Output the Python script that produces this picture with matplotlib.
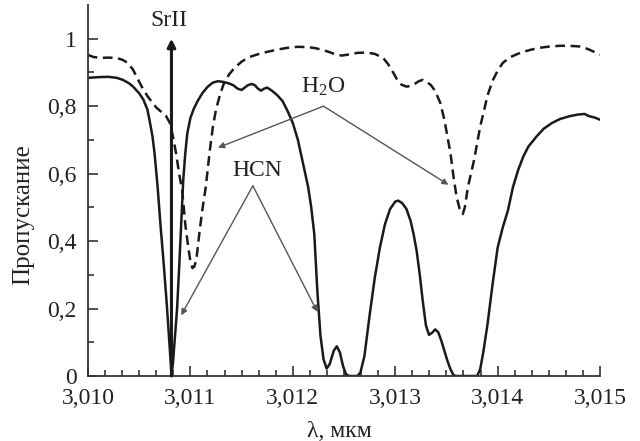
import matplotlib
matplotlib.use("Agg")
import matplotlib.pyplot as plt

plt.rcParams['font.family'] = ['Liberation Serif', 'DejaVu Serif']
plt.rcParams['mathtext.fontset'] = 'custom'
plt.rcParams['mathtext.rm'] = 'Liberation Serif'
plt.rcParams['mathtext.it'] = 'Liberation Serif:italic'
plt.rcParams['lines.scale_dashes'] = False

# HCN transmission (solid)
hcn_x = [3.01000, 3.01010, 3.01020, 3.01028, 3.01034, 3.01040, 3.01044, 3.01050, 3.01054, 3.01058,
         3.01060, 3.01063, 3.01065, 3.01068, 3.01071, 3.01074, 3.01077, 3.01079, 3.01081, 3.010815,
         3.01083, 3.01085, 3.01087, 3.01089, 3.01091, 3.01093, 3.01095, 3.01097, 3.01100, 3.01103,
         3.01107, 3.01112, 3.01117, 3.01122, 3.01127, 3.01132, 3.01137, 3.01142, 3.01146, 3.01150,
         3.01153, 3.01156, 3.01160, 3.01163, 3.01166, 3.01169, 3.01172, 3.01175, 3.01180, 3.01185,
         3.01190, 3.01195, 3.01200, 3.01205, 3.01210, 3.01215, 3.01218, 3.01221, 3.01224, 3.01227,
         3.01230, 3.01233, 3.01236, 3.01240, 3.01243, 3.01246, 3.01249, 3.01252, 3.01255, 3.01263,
         3.01266, 3.01270, 3.01275, 3.01280, 3.01285, 3.01290, 3.01295, 3.01300, 3.01303, 3.01307,
         3.01311, 3.01315, 3.01318, 3.01321, 3.01324, 3.01327, 3.01330, 3.01333, 3.01336, 3.01339,
         3.01342, 3.01345, 3.01348, 3.01351, 3.01354, 3.01357, 3.01360, 3.01380, 3.01383, 3.01386,
         3.01390, 3.01395, 3.01400, 3.01405, 3.01410, 3.01415, 3.01420, 3.01425, 3.01430, 3.01438,
         3.01445, 3.01453, 3.01461, 3.01470, 3.01478, 3.01485, 3.01488, 3.01490, 3.01495, 3.01500]
hcn_y = [0.884, 0.886, 0.887, 0.884, 0.878, 0.868, 0.858, 0.838, 0.820, 0.790,
         0.760, 0.710, 0.660, 0.560, 0.440, 0.330, 0.210, 0.120, 0.030, 0.000,
         0.040, 0.120, 0.200, 0.320, 0.450, 0.580, 0.660, 0.720, 0.765, 0.790,
         0.815, 0.840, 0.858, 0.870, 0.874, 0.872, 0.868, 0.862, 0.852, 0.848,
         0.855, 0.862, 0.866, 0.862, 0.852, 0.846, 0.852, 0.855, 0.845, 0.832,
         0.815, 0.785, 0.750, 0.700, 0.630, 0.560, 0.500, 0.420, 0.250, 0.120,
         0.050, 0.022, 0.035, 0.075, 0.088, 0.070, 0.030, 0.005, 0.000, 0.000,
         0.010, 0.060, 0.180, 0.290, 0.380, 0.450, 0.495, 0.517, 0.520, 0.512,
         0.495, 0.460, 0.420, 0.370, 0.300, 0.220, 0.150, 0.122, 0.128, 0.138,
         0.130, 0.105, 0.075, 0.045, 0.020, 0.002, 0.000, 0.000, 0.020, 0.070,
         0.150, 0.270, 0.380, 0.440, 0.490, 0.560, 0.610, 0.650, 0.680, 0.710,
         0.733, 0.750, 0.762, 0.770, 0.775, 0.777, 0.772, 0.770, 0.766, 0.760]

# H2O transmission (dashed)
h2o_x = [3.01000, 3.01005, 3.01012, 3.01020, 3.01028, 3.01034, 3.01039, 3.01044, 3.01048, 3.01053,
         3.01058, 3.01063, 3.01067, 3.01072, 3.01076, 3.01080, 3.01083, 3.01086, 3.01089, 3.01092,
         3.01095, 3.01098, 3.01100, 3.01102, 3.01104, 3.01106, 3.01109, 3.01112, 3.01115, 3.01119,
         3.01122, 3.01125, 3.01129, 3.01133, 3.01138, 3.01143, 3.01150, 3.01157, 3.01165, 3.01175,
         3.01185, 3.01195, 3.01205, 3.01215, 3.01222, 3.01230, 3.01236, 3.01242, 3.01248, 3.01254,
         3.01263, 3.01272, 3.01280, 3.01288, 3.01293, 3.01298, 3.01302, 3.01306, 3.01311, 3.01315,
         3.01319, 3.01323, 3.01327, 3.01331, 3.01335, 3.01339, 3.01344, 3.01348, 3.01351, 3.01354,
         3.01357, 3.01360, 3.01363, 3.01366, 3.01368, 3.01371, 3.01374, 3.01377, 3.01380, 3.01383,
         3.01387, 3.01390, 3.01395, 3.01400, 3.01405, 3.01412, 3.01422, 3.01432, 3.01441, 3.01451,
         3.01461, 3.01470, 3.01480, 3.01485, 3.01490, 3.01495, 3.01500]
h2o_y = [0.952, 0.946, 0.943, 0.944, 0.943, 0.937, 0.928, 0.908, 0.884, 0.855,
         0.830, 0.810, 0.795, 0.782, 0.772, 0.750, 0.710, 0.660, 0.600, 0.550,
         0.450, 0.380, 0.340, 0.320, 0.325, 0.350, 0.430, 0.500, 0.560, 0.670,
         0.740, 0.790, 0.835, 0.870, 0.895, 0.913, 0.932, 0.945, 0.953, 0.961,
         0.968, 0.973, 0.976, 0.975, 0.972, 0.966, 0.960, 0.953, 0.950, 0.953,
         0.958, 0.959, 0.955, 0.944, 0.925, 0.900, 0.878, 0.864, 0.858, 0.860,
         0.866, 0.874, 0.878, 0.872, 0.862, 0.845, 0.810, 0.760, 0.710, 0.660,
         0.590, 0.530, 0.495, 0.480, 0.500, 0.560, 0.600, 0.640, 0.690, 0.740,
         0.790, 0.830, 0.875, 0.905, 0.928, 0.945, 0.958, 0.967, 0.973, 0.977,
         0.979, 0.979, 0.977, 0.973, 0.967, 0.960, 0.953]

srii_x = 3.010815
x_ticks = [3.010, 3.011, 3.012, 3.013, 3.014, 3.015]
x_labels = ["3,010", "3,011", "3,012", "3,013", "3,014", "3,015"]
y_ticks = [0, 0.2, 0.4, 0.6, 0.8, 1.0]
y_labels = ["0", "0,2", "0,4", "0,6", "0,8", "1"]

ink = '#1a1a1a'
txt = '#222222'
fs = 17
fig = plt.figure(figsize=(6.4, 4.41), dpi=100)
ax = fig.add_axes([0.1375, 0.1474, 0.8, 0.8413])

ax.plot(hcn_x, hcn_y, color=ink, lw=1.8, solid_joinstyle='round')
ax.plot(h2o_x, h2o_y, color=ink, lw=1.8, linestyle=(0, (7, 4)))

# SrII line
ax.annotate('', xy=(srii_x, 1.0), xytext=(srii_x, 0.0),
            arrowprops=dict(arrowstyle='-|>', color=ink, lw=2.2, mutation_scale=12,
                            shrinkA=0, shrinkB=0))
ax.text(srii_x - 0.00002, 1.055, 'SrII', ha='center', va='center', fontsize=fs, color=txt)

gray = '#555555'
# H2O annotation
h2o_vertex = (3.01230, 0.800)
for tip in [(3.01127, 0.677), (3.01352, 0.567)]:
    ax.annotate('', xy=tip, xytext=h2o_vertex,
                arrowprops=dict(arrowstyle='-|>', color=gray, lw=1.0, mutation_scale=9,
                                shrinkA=0, shrinkB=0))
ax.text(3.01230, 0.858, r'H$_\mathrm{2}$O', ha='center', va='center', fontsize=fs, color=txt)

# HCN annotation
hcn_vertex = (3.01161, 0.564)
for tip in [(3.01091, 0.180), (3.01224, 0.190)]:
    ax.annotate('', xy=tip, xytext=hcn_vertex,
                arrowprops=dict(arrowstyle='-|>', color=gray, lw=1.0, mutation_scale=9,
                                shrinkA=0, shrinkB=0))
ax.text(3.01165, 0.61, 'HCN', ha='center', va='center', fontsize=fs, color=txt)

ax.set_xlim(3.010, 3.015)
ax.set_ylim(0, 1.1)
ax.spines['top'].set_visible(False)
ax.spines['right'].set_visible(False)
for s in ['left', 'bottom']:
    ax.spines[s].set_color('#333')
    ax.spines[s].set_linewidth(1.3)

ax.set_xticks(x_ticks)
ax.set_xticklabels(x_labels)
ax.set_xticks([3.010 + i * 0.001 / 6 for i in range(31) if i % 6 != 0], minor=True)
ax.set_yticks(y_ticks)
ax.set_yticklabels(y_labels)
ax.set_yticks([0.1, 0.3, 0.5, 0.7, 0.9], minor=True)

ax.tick_params(which='both', direction='in', color='#333', width=1.2, labelsize=fs, labelcolor=txt)
ax.tick_params(which='major', length=7)
ax.tick_params(which='minor', length=4)
ax.tick_params(axis='x', pad=9)
ax.tick_params(axis='y', pad=8)

ax.set_xlabel('λ, мкм', fontsize=fs, color=txt)
ax.set_ylabel('Пропускание', fontsize=18, color=txt)
ax.xaxis.set_label_coords(0.49, -0.12)
ax.yaxis.set_label_coords(-0.105, 0.434)

fig.savefig('out.png', dpi=100)
